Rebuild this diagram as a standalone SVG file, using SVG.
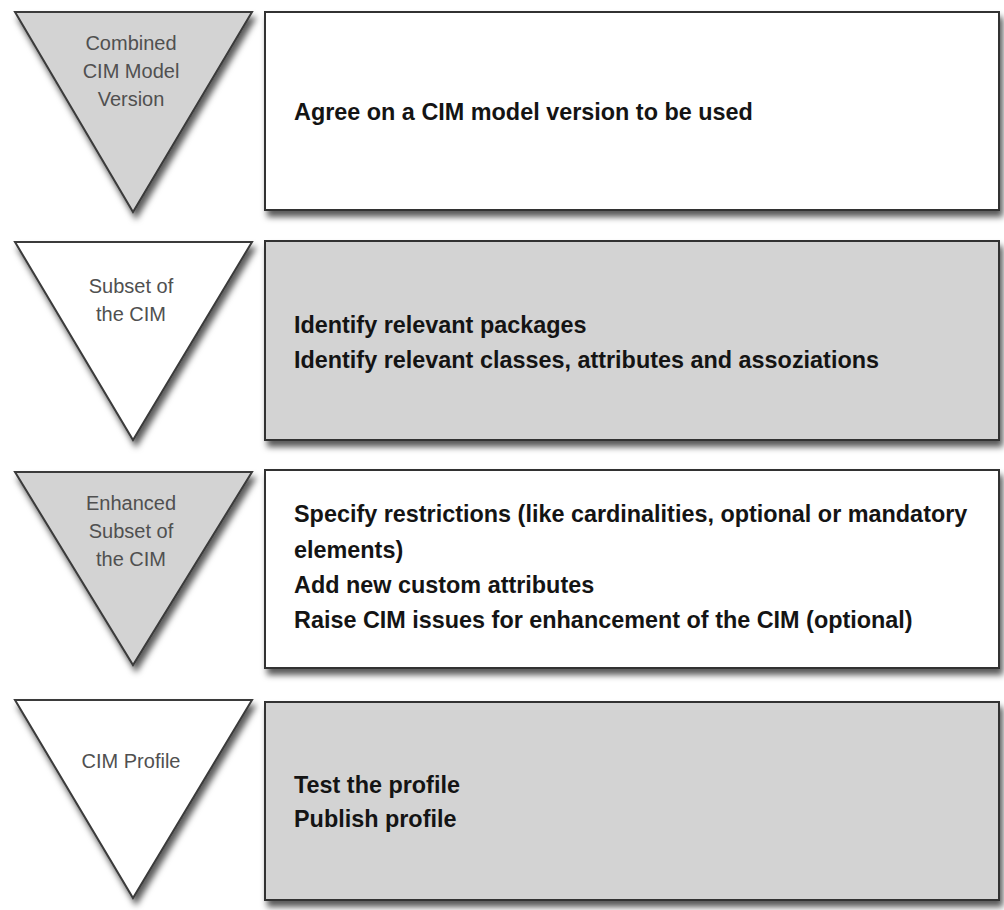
<svg xmlns="http://www.w3.org/2000/svg" width="1004" height="910" viewBox="0 0 1004 910">
  <defs>
    <filter id="shadow" x="-5%" y="-5%" width="115%" height="120%">
      <feDropShadow dx="3" dy="6" stdDeviation="3" flood-color="#000" flood-opacity="0.65"/>
    </filter>
  </defs>
  <style>
    .tri { stroke: #3a3a3a; stroke-width: 2; stroke-linejoin: miter; filter: url(#shadow); }
    .box { stroke: #333; stroke-width: 2; filter: url(#shadow); }
    .gray { fill: #d3d3d3; }
    .white { fill: #ffffff; }
    .stage { font-family: "Liberation Sans", Arial, sans-serif; font-size: 20px; fill: #505050; text-anchor: middle; }
    .task { font-family: "Liberation Sans", Arial, sans-serif; font-size: 23.4px; font-weight: bold; fill: #141414; }
  </style>
  <rect width="1004" height="910" fill="#ffffff"/>

  <!-- Stage 1: combined model version -->
  <g id="stage-combined">
    <polygon class="tri gray" points="15,12 252,12 133,212"/>
    <text class="stage" x="131" y="50">Combined</text>
    <text class="stage" x="131" y="78">CIM Model</text>
    <text class="stage" x="131" y="106">Version</text>
  </g>
  <g id="task-combined">
    <rect class="box white" x="265" y="12" width="734" height="198"/>
    <text class="task" x="294" y="120">Agree on a CIM model version to be used</text>
  </g>

  <!-- Stage 2: subset -->
  <g id="stage-subset">
    <polygon class="tri white" points="15,242 252,242 133,440"/>
    <text class="stage" x="131" y="293">Subset of</text>
    <text class="stage" x="131" y="321">the CIM</text>
  </g>
  <g id="task-subset">
    <rect class="box gray" x="265" y="241" width="734" height="199"/>
    <text class="task" x="294" y="333">Identify relevant packages</text>
    <text class="task" x="294" y="368">Identify relevant classes, attributes and assoziations</text>
  </g>

  <!-- Stage 3: enhanced subset -->
  <g id="stage-enhanced">
    <polygon class="tri gray" points="15,472 252,472 133,665"/>
    <text class="stage" x="131" y="510">Enhanced</text>
    <text class="stage" x="131" y="538">Subset of</text>
    <text class="stage" x="131" y="566">the CIM</text>
  </g>
  <g id="task-enhanced">
    <rect class="box white" x="265" y="470" width="734" height="198"/>
    <text class="task" x="294" y="522">Specify restrictions (like cardinalities, optional or mandatory</text>
    <text class="task" x="294" y="558">elements)</text>
    <text class="task" x="294" y="593">Add new custom attributes</text>
    <text class="task" x="294" y="628">Raise CIM issues for enhancement of the CIM (optional)</text>
  </g>

  <!-- Stage 4: profile -->
  <g id="stage-profile">
    <polygon class="tri white" points="15,700 252,700 133,898"/>
    <text class="stage" x="131" y="768">CIM Profile</text>
  </g>
  <g id="task-profile">
    <rect class="box gray" x="265" y="702" width="734" height="198"/>
    <text class="task" x="294" y="793">Test the profile</text>
    <text class="task" x="294" y="827">Publish profile</text>
  </g>
</svg>
